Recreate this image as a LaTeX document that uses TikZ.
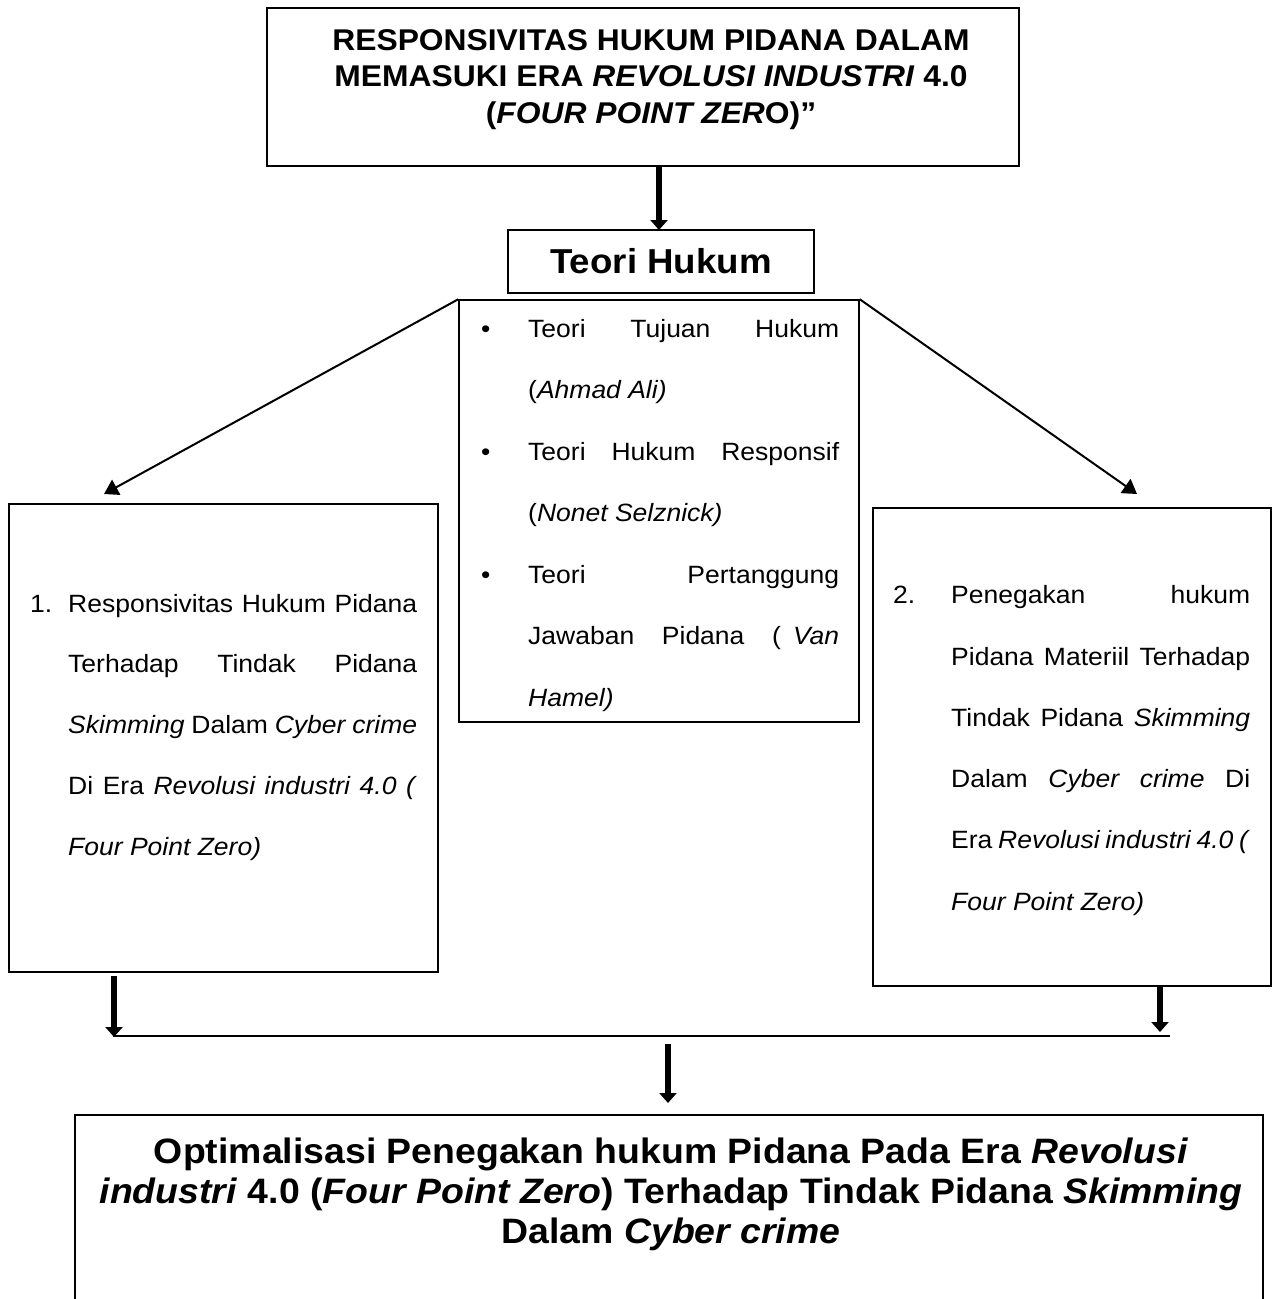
\documentclass[tikz,border=0pt]{standalone}
\usepackage{fontspec}
\setmainfont{Liberation Sans}[FakeStretch=1.06]
\usetikzlibrary{arrows.meta}
\tikzset{
  box/.style={draw, line width=1.5pt, rectangle, inner sep=0pt},
  body/.style={font=\fontsize{25}{30}\selectfont, inner sep=0pt, anchor=base west},
  ttl/.style={font=\fontsize{30}{36}\selectfont\bfseries, inner sep=0pt, anchor=base},
  big/.style={font=\fontsize{35.3}{40}\selectfont\bfseries, inner sep=0pt, anchor=base},
  fatarrow/.style={line width=5.5pt, -{Triangle[width=17pt,length=10pt]}},
  slimarrow/.style={line width=2pt, -{Triangle[width=17pt,length=14pt]}},
}
\begin{document}
\begin{tikzpicture}[x=1pt,y=-1pt]
\useasboundingbox[fill=white] (0,0) rectangle (1279,1299);

% title box
\node[box, minimum width=752pt, minimum height=158pt] (title) at (643,87) {};
\node[ttl] (t1) at (651,50) {RESPONSIVITAS HUKUM PIDANA DALAM};
\node[ttl] (t2) at (651,86) {MEMASUKI ERA \textit{REVOLUSI INDUSTRI} 4.0};
\node[ttl] (t3) at (651,123) {(\textit{FOUR POINT ZER}O)”};

% teori hukum
\node[box, minimum width=306pt, minimum height=63pt,
      font=\fontsize{34.6}{40}\selectfont\bfseries] (teori) at (661,261.5) {Teori Hukum};

% center box
\node[box, minimum width=400pt, minimum height=422pt] (cbox) at (659,511) {};
\node[body] (c1) at (481,337) {\makebox[47pt][l]{•}\makebox[311pt][s]{Teori Tujuan Hukum}};
\node[body] (c2) at (528,398.5) {(\textit{Ahmad Ali)}};
\node[body] (c3) at (481,460) {\makebox[47pt][l]{•}\makebox[311pt][s]{Teori Hukum Responsif}};
\node[body] (c4) at (528,521.5) {(\textit{Nonet Selznick)}};
\node[body] (c5) at (481,583) {\makebox[47pt][l]{•}\makebox[311pt][s]{Teori Pertanggung}};
\node[body] (c6) at (528,644.5) {\makebox[311pt][s]{Jawaban Pidana (\hspace{12pt}\textit{Van}}};
\node[body] (c7) at (528,706) {\textit{Hamel)}};

% left box
\node[box, minimum width=429pt, minimum height=468pt] (lbox) at (223.5,738) {};
\node[body] (l0) at (30,612) {1.};
\node[body] (l1) at (68,612) {\makebox[349pt][s]{Responsivitas Hukum Pidana}};
\node[body] (l2) at (68,672) {\makebox[349pt][s]{Terhadap Tindak Pidana}};
\node[body] (l3) at (68,733) {\makebox[349pt][s]{\textit{Skimming} Dalam \textit{Cyber crime}}};
\node[body] (l4) at (68,794) {\makebox[349pt][s]{Di Era \textit{Revolusi industri 4.0 (}}};
\node[body] (l5) at (68,855) {\textit{Four Point Zero)}};

% right box
\node[box, minimum width=398pt, minimum height=478pt] (rbox) at (1072,747) {};
\node[body] (r0) at (893,603) {2.};
\node[body] (r1) at (951,603) {\makebox[299pt][s]{Penegakan hukum}};
\node[body] (r2) at (951,665) {\makebox[299pt][s]{Pidana Materiil Terhadap}};
\node[body] (r3) at (951,726) {\makebox[299pt][s]{Tindak Pidana \textit{Skimming}}};
\node[body] (r4) at (951,787) {\makebox[299pt][s]{Dalam \textit{Cyber crime} Di}};
\node[body] (r5) at (951,848) {\makebox[299pt][s]{Era \textit{Revolusi industri 4.0 (}}};
\node[body] (r6) at (951,910) {\textit{Four Point Zero)}};

% bottom box (open at the bottom edge of the page)
\node[minimum width=1188pt, minimum height=184pt, inner sep=0pt] (obox) at (669,1207) {};
\draw[line width=1.5pt] (obox.south west) -- (obox.north west) -- (obox.north east) -- (obox.south east);
\node[big] (b1) at (671,1163) {Optimalisasi Penegakan hukum Pidana Pada Era \textit{Revolusi}};
\node[big] (b2) at (671,1203) {\textit{industri} 4.0 (\textit{Four Point Zero}) Terhadap Tindak Pidana \textit{Skimming}};
\node[big] (b3) at (671,1243) {Dalam \textit{Cyber crime}};

% connectors
\coordinate (ta) at (659,230);
\draw[fatarrow] (title.south -| ta) -- (ta);

\coordinate (ltip) at (104,494);
\coordinate (rtip) at (1137,494);
\draw[slimarrow] (cbox.north west) -- (ltip);
\draw[slimarrow] (cbox.north east) -- (rtip);

\coordinate (lj) at (114,1037);
\coordinate (rj) at (1160,1032);
\coordinate (hl) at (113,1036);
\coordinate (hr) at (1170,1036);
\draw[fatarrow] ([yshift=-3pt]lbox.south -| lj) -- (lj);
\draw[fatarrow] (rbox.south -| rj) -- (rj);
\draw[line width=2pt] (hl) -- (hr);

\coordinate (cs) at (668,1044);
\coordinate (ce) at (668,1103);
\draw[fatarrow] (cs) -- (ce);
\end{tikzpicture}
\end{document}
